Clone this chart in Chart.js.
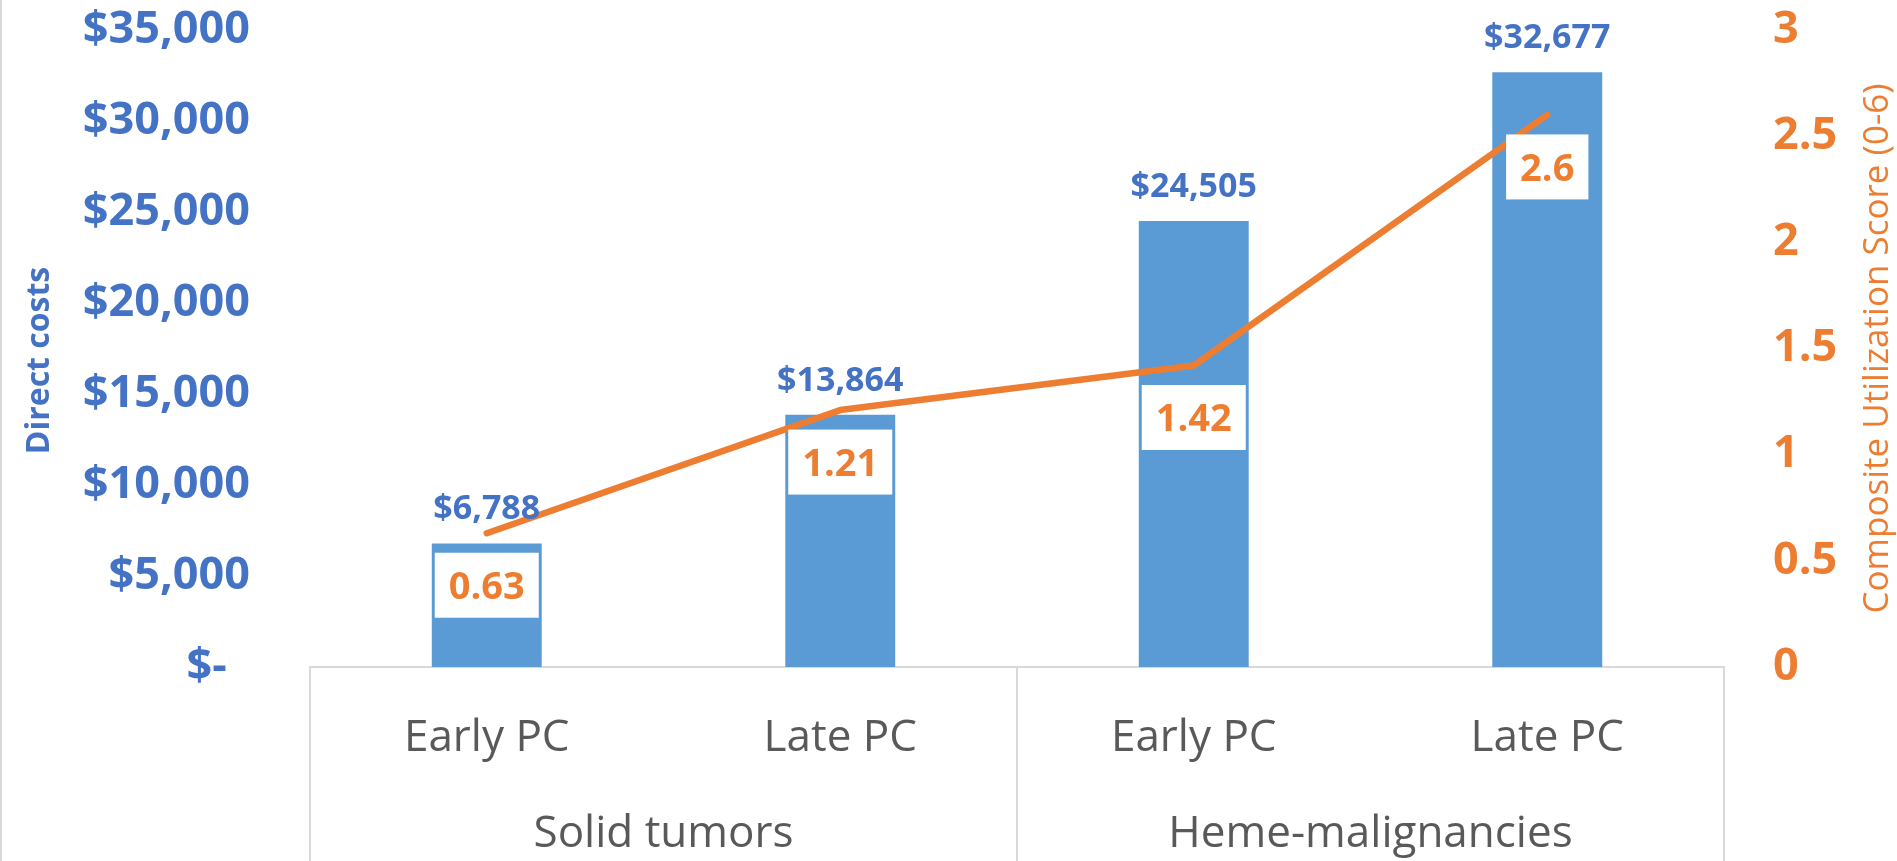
<!DOCTYPE html>
<html>
<head>
<meta charset="utf-8">
<script src="https://cdn.jsdelivr.net/npm/chart.js@4.4.1/dist/chart.umd.min.js"></script>
<style>
  html, body { margin: 0; padding: 0; background: #fff; }
  #wrap { width: 1897px; height: 861px; }
</style>
</head>
<body>
<div id="wrap"><canvas id="cost-chart"></canvas></div>
<script>
// chart data
const categories = ['Early PC', 'Late PC', 'Early PC', 'Late PC'];
const groups = ['Solid tumors', 'Heme-malignancies'];
const directCosts = [6788, 13864, 24505, 32677];
const utilScores = [0.63, 1.21, 1.42, 2.6];
const costTickLabels = ['$-  ', '$5,000', '$10,000', '$15,000', '$20,000', '$25,000', '$30,000', '$35,000'];
const scoreTickLabels = ['0', '0.5', '1', '1.5', '2', '2.5', '3'];

const FONT = "'Open Sans', sans-serif";
const BLUE_TEXT = '#4472C4';
const BAR_BLUE = '#5B9BD5';
const ORANGE = '#ED7D31';
const GREY_TEXT = '#595959';
const LINE_GREY = '#D9D9D9';

// labels on bars and line, group labels, separators, axis titles
const annotatePlugin = {
    id: 'annotate',
    afterDatasetsDraw(chart) {
        const c = chart.ctx;

        // bar value labels
        const bars = chart.getDatasetMeta(1).data;
        c.save();
        c.font = 'bold 34px ' + FONT;
        c.fillStyle = BLUE_TEXT;
        c.textAlign = 'center';
        c.textBaseline = 'alphabetic';
        bars.forEach((bar, i) => {
            c.fillText('$' + directCosts[i].toLocaleString('en-US'), bar.x, bar.y - 24);
        });

        // line labels in white boxes
        const pts = chart.getDatasetMeta(0).data;
        c.font = 'bold 38px ' + FONT;
        pts.forEach((p, i) => {
            const txt = String(utilScores[i]);
            const w = c.measureText(txt).width + 28;
            const h = 65;
            const cy = p.y + 52;
            c.fillStyle = '#fff';
            c.fillRect(p.x - w / 2, cy - h / 2, w, h);
            c.fillStyle = ORANGE;
            c.fillText(txt, p.x, cy + 14);
        });
        c.restore();
    },
    afterDraw(chart) {
        const c = chart.ctx;
        const area = chart.chartArea;
        const x = chart.scales.x;
        const H = chart.height;
        c.save();

        // multi-level category box lines
        const mid = (x.getPixelForValue(1) + x.getPixelForValue(2)) / 2;
        c.strokeStyle = LINE_GREY;
        c.lineWidth = 2;
        [area.left, mid, area.right].forEach(px => {
            c.beginPath();
            c.moveTo(px, area.bottom);
            c.lineTo(px, H);
            c.stroke();
        });
        // outer border at left edge
        c.fillStyle = LINE_GREY;
        c.fillRect(0, 0, 2, H);

        // group labels
        c.font = '44px ' + FONT;
        c.fillStyle = GREY_TEXT;
        c.textAlign = 'center';
        c.textBaseline = 'alphabetic';
        groups.forEach((g, gi) => {
            const gx = (x.getPixelForValue(gi * 2) + x.getPixelForValue(gi * 2 + 1)) / 2;
            c.fillText(g, gx, 847);
        });

        // axis titles, both read bottom to top
        const cy = (area.top + area.bottom) / 2;
        c.save();
        c.translate(49, cy + 12);
        c.rotate(-Math.PI / 2);
        c.font = 'bold 32px ' + FONT;
        c.fillStyle = BLUE_TEXT;
        c.fillText('Direct costs', 0, 0);
        c.restore();

        c.save();
        c.translate(1888, cy);
        c.rotate(-Math.PI / 2);
        c.font = '35px ' + FONT;
        c.fillStyle = ORANGE;
        c.fillText('Composite Utilization Score (0-6)', 0, 0);
        c.restore();

        c.restore();
    }
};

const chartConfig = {
    data: {
        labels: categories,
        datasets: [{
            type: 'line',
            label: 'Composite Utilization Score',
            data: utilScores,
            yAxisID: 'y1',
            borderColor: ORANGE,
            borderWidth: 6.5,
            borderCapStyle: 'round',
            borderJoinStyle: 'round',
            pointRadius: 0,
            tension: 0,
            order: 1
        }, {
            type: 'bar',
            label: 'Direct costs',
            data: directCosts,
            yAxisID: 'y',
            backgroundColor: BAR_BLUE,
            categoryPercentage: 1,
            barPercentage: 0.311,
            order: 2
        }]
    },
    options: {
        responsive: true,
        maintainAspectRatio: false,
        animation: false,
        layout: {
            padding: { top: 30, bottom: 96, left: 0, right: 0 }
        },
        plugins: {
            legend: { display: false },
            tooltip: { enabled: false }
        },
        scales: {
            x: {
                grid: { display: false, drawTicks: false },
                border: { color: LINE_GREY, width: 2 },
                ticks: {
                    font: { family: FONT, size: 44 },
                    color: GREY_TEXT,
                    padding: 45,
                    maxRotation: 0
                },
                afterFit: (axis) => {
                    axis.height = 98;
                    axis.paddingLeft = 0;
                    axis.paddingRight = 0;
                }
            },
            y: {
                position: 'left',
                min: 0,
                max: 35000,
                grid: { display: false, drawTicks: false },
                border: { display: false },
                ticks: {
                    stepSize: 5000,
                    padding: 60,
                    font: { family: FONT, size: 45, weight: 'bold' },
                    color: BLUE_TEXT,
                    callback: (value, index) => costTickLabels[index]
                },
                afterFit: (axis) => {
                    axis.width = 310;
                    axis.paddingTop = 0;
                    axis.paddingBottom = 0;
                }
            },
            y1: {
                position: 'right',
                min: 0,
                max: 3,
                grid: { display: false, drawTicks: false },
                border: { display: false },
                ticks: {
                    stepSize: 0.5,
                    padding: 49,
                    font: { family: FONT, size: 45, weight: 'bold' },
                    color: ORANGE,
                    callback: (value, index) => scoreTickLabels[index]
                },
                afterFit: (axis) => {
                    axis.width = 173;
                    axis.paddingTop = 0;
                    axis.paddingBottom = 0;
                }
            }
        }
    },
    plugins: [annotatePlugin]
};

const costChart = new Chart(document.getElementById('cost-chart'), chartConfig);
</script>
</body>
</html>
